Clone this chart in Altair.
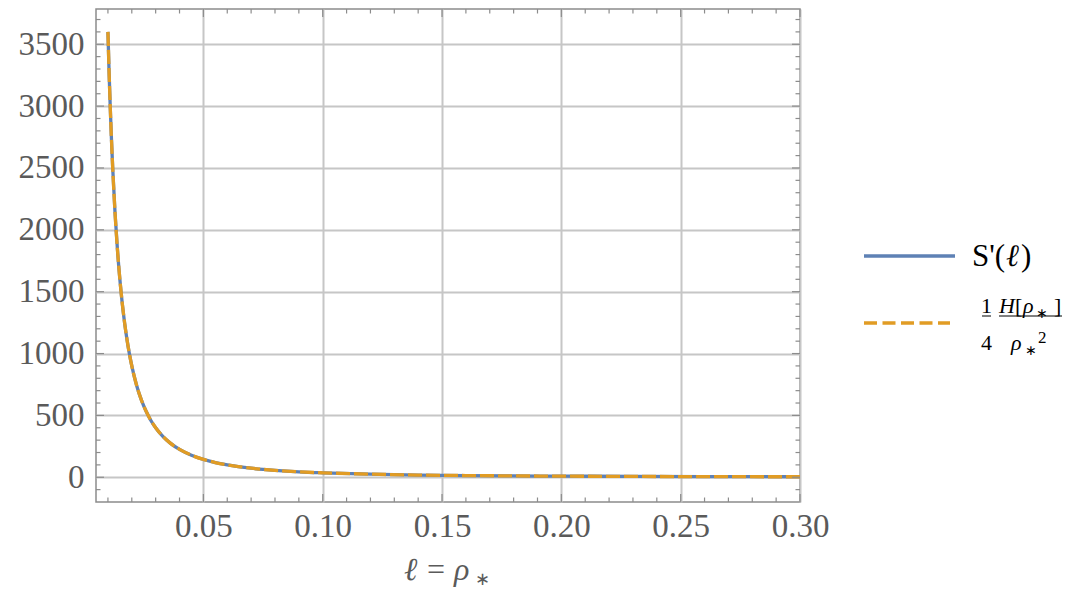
import altair as alt
import pandas as pd

# --- data ---
ell = [0.0100, 0.0105, 0.0110, 0.0115, 0.0120, 0.0130, 0.0140, 0.0150, 0.0160,
       0.0170, 0.0180, 0.0190, 0.0200, 0.0220, 0.0240, 0.0260, 0.0280, 0.0300,
       0.0330, 0.0360, 0.0400, 0.0450, 0.0500, 0.0550, 0.0600, 0.0700, 0.0800,
       0.0900, 0.1000, 0.1200, 0.1400, 0.1600, 0.1800, 0.2000, 0.2300, 0.2600,
       0.3000]
s_prime = [3600, 3265, 2975, 2722, 2500, 2130, 1837, 1600, 1406,
           1246, 1111, 997, 900, 744, 625, 533, 459, 400,
           331, 278, 225, 178, 144, 119, 100, 73, 56,
           44, 36, 25, 18, 14, 11, 9, 7, 5,
           4]
x_major = [0.05, 0.10, 0.15, 0.20, 0.25, 0.30]
y_major = [0, 500, 1000, 1500, 2000, 2500, 3000, 3500]
x_minor = [round(0.01 * i, 2) for i in range(1, 31) if i % 5 != 0]
y_minor = [100 * i for i in range(-1, 38) if i % 5 != 0]

W, H = 704, 493
X_DOM = [0.005, 0.30]
Y_DOM = [-200, 3785]
FONT = "Liberation Serif"
GRAY = "#5a5a5a"
FRAME = "#8c8c8c"
GRID = "#c6c6c6"
BLUE = "#5E81B5"
ORANGE = "#E19C24"

df = pd.DataFrame({"ell": ell, "S": s_prime})
xs = alt.Scale(domain=X_DOM, nice=False, zero=False)
ys = alt.Scale(domain=Y_DOM, nice=False, zero=False)

xaxis = alt.Axis(values=x_major, format=".2f", title=None, grid=True,
                 gridColor=GRID, gridWidth=2, ticks=False, domain=False,
                 labelFont=FONT, labelFontSize=33, labelColor=GRAY,
                 labelPadding=8, labelFlush=False)
yaxis = alt.Axis(values=y_major, format="d", title=None, grid=True,
                 gridColor=GRID, gridWidth=2, ticks=False, domain=False,
                 labelFont=FONT, labelFontSize=33, labelColor=GRAY,
                 labelPadding=12, labelFlush=False)

blue = alt.Chart(df).mark_line(color=BLUE, strokeWidth=3.3, interpolate="monotone", clip=True).encode(
    x=alt.X("ell:Q", scale=xs, axis=xaxis),
    y=alt.Y("S:Q", scale=ys, axis=yaxis),
)
orange = alt.Chart(df).mark_line(color=ORANGE, strokeWidth=3.3, strokeDash=[14, 4],
                                 interpolate="monotone", clip=True).encode(
    x=alt.X("ell:Q", scale=xs),
    y=alt.Y("S:Q", scale=ys),
)

# inward frame ticks
def xticks(vals, length):
    d = pd.DataFrame({"v": vals})
    bot = alt.Chart(d).mark_rule(color=FRAME, strokeWidth=1.2).encode(
        x=alt.X("v:Q", scale=xs), y=alt.value(H), y2=alt.value(H - length))
    top = alt.Chart(d).mark_rule(color=FRAME, strokeWidth=1.2).encode(
        x=alt.X("v:Q", scale=xs), y=alt.value(0), y2=alt.value(length))
    return [bot, top]

def yticks(vals, length):
    d = pd.DataFrame({"v": vals})
    left = alt.Chart(d).mark_rule(color=FRAME, strokeWidth=1.2).encode(
        y=alt.Y("v:Q", scale=ys), x=alt.value(0), x2=alt.value(length))
    right = alt.Chart(d).mark_rule(color=FRAME, strokeWidth=1.2).encode(
        y=alt.Y("v:Q", scale=ys), x=alt.value(W), x2=alt.value(W - length))
    return [left, right]

tick_layers = xticks(x_minor, 4.5) + xticks(x_major, 8) + yticks(y_minor, 4.5) + yticks(y_major, 8)

one = pd.DataFrame({"k": [0]})

def txt(t, x, y, size, color="black", style="normal", align="left", baseline="alphabetic"):
    return alt.Chart(one).mark_text(text=t, font=FONT, fontSize=size, color=color,
                                    fontStyle=style, align=align, baseline=baseline).encode(
        x=alt.value(x), y=alt.value(y))

def hline(x1, x2, y, color, width, dash=None):
    kw = dict(color=color, strokeWidth=width)
    if dash:
        kw["strokeDash"] = dash
    return alt.Chart(one).mark_rule(**kw).encode(x=alt.value(x1), x2=alt.value(x2), y=alt.value(y))

# axis title  "ℓ = ρ∗"
title = [
    txt("ℓ", 308, 571, 32, GRAY, "italic"),
    txt("=", 331, 571, 32, GRAY),
    txt("ρ", 358, 571, 32, GRAY, "italic"),
    txt("∗", 379, 576, 18, GRAY),
]

# legend
legend = [
    hline(768, 859, 247, BLUE, 3.3),
    txt("S'(", 876, 257, 31),
    txt("ℓ", 910, 257, 31, style="italic"),
    txt(")", 925, 257, 31),
    hline(768, 854, 314, ORANGE, 3.3, [13, 5.5]),
    txt("1", 890.5, 304, 22, align="center"),
    hline(886, 895, 307, "black", 1),
    txt("4", 890.5, 341, 22, align="center"),
    txt("H", 903, 304, 22, style="italic"),
    txt("[", 919, 304, 22),
    txt("ρ", 927, 304, 22, style="italic"),
    txt("∗", 940, 309, 14),
    txt("]", 958, 304, 22),
    hline(903, 966, 307, "black", 1),
    txt("ρ", 915, 341, 22, style="italic"),
    txt("∗", 929, 346, 14),
    txt("2", 942, 334, 17),
]

chart = alt.layer(blue, orange, *tick_layers, *title, *legend).properties(
    width=W, height=H, autosize="none",
    padding={"left": 88, "top": 1, "right": 272, "bottom": 88},
).configure_view(stroke=FRAME, strokeWidth=1.5)

chart.save("out.html", embed_options={"renderer": "svg", "actions": False})
